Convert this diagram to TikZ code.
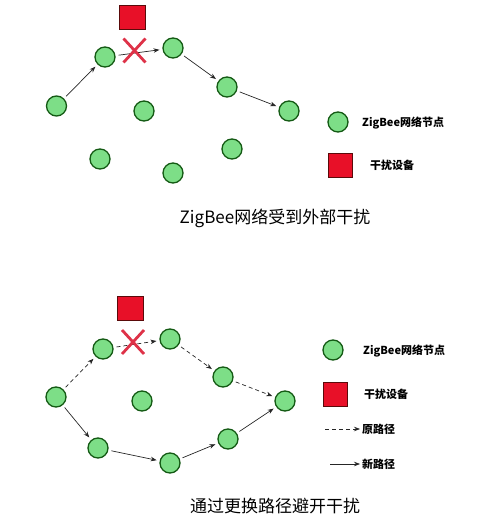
\documentclass[tikz,border=0pt]{standalone}
\usepackage{fontspec}
\setmainfont{Noto Sans CJK SC}
\usetikzlibrary{arrows.meta}
\definecolor{nodefill}{RGB}{125,222,135}
\definecolor{nodeedge}{RGB}{20,90,20}
\definecolor{jamfill}{RGB}{232,16,40}
\definecolor{jamedge}{RGB}{90,10,10}
\definecolor{xred}{RGB}{222,50,72}
\tikzset{
 zb/.style={circle, draw=nodeedge, fill=nodefill, line width=1.3pt, minimum size=20pt, inner sep=0pt},
 jam/.style={rectangle, draw=jamedge, fill=jamfill, line width=0.8pt, minimum width=26pt, minimum height=24pt, inner sep=0pt},
 newarr/.style={draw=black!85, line width=0.7pt, -{Stealth[length=6pt,width=4.5pt]}, shorten >=3pt, shorten <=3pt},
 oldarr/.style={newarr, dash pattern=on 4pt off 3pt},
 crossline/.style={draw=xred, line width=2.8pt},
 legtext/.style={anchor=west, font=\fontsize{11}{13}\selectfont\bfseries, inner sep=0pt},
 captext/.style={font=\fontsize{17}{20}\selectfont, inner sep=0pt}
}
\begin{document}
\begin{tikzpicture}[x=1pt,y=-1pt]
\useasboundingbox (0,0) rectangle (487,518);
% ---------- top diagram ----------
\node[zb] (ta) at (56.5,106) {};
\node[zb] (tb) at (105,57) {};
\node[zb] (tc) at (173,48) {};
\node[zb] (td) at (227,87) {};
\node[zb] (te) at (289,111) {};
\node[zb] (tf) at (144,111) {};
\node[zb] (tg) at (100,159) {};
\node[zb] (th) at (173,173) {};
\node[zb] (ti) at (232,149) {};
\node[jam] (tj) at (132,17) {};
\draw[newarr] (ta) -- (tb);
\draw[newarr] (tb) -- (tc);
\draw[newarr] (tc) -- (td);
\draw[newarr] (td) -- (te);
\coordinate (tx) at (134.5,50.5);
\draw[crossline] ([shift={(-11,-12)}]tx) -- ([shift={(11,12)}]tx);
\draw[crossline] ([shift={(11,-12)}]tx) -- ([shift={(-11,12)}]tx);
% legend top
\node[zb] (tlc) at (338,122) {};
\node[legtext] (tlct) at (362,123) {ZigBee网络节点};
\node[jam, minimum width=24pt] (tls) at (340,165) {};
\node[legtext] (tlst) at (370,165) {干扰设备};
\node[captext] (tcap) at (275,218) {ZigBee网络受到外部干扰};
% ---------- bottom diagram ----------
\node[zb] (ba) at (56,397) {};
\node[zb] (bb) at (103,349) {};
\node[zb] (bc) at (170,339) {};
\node[zb] (bd) at (223,377) {};
\node[zb] (be) at (285,401) {};
\node[zb] (bf) at (142,401) {};
\node[zb] (bg) at (98,448) {};
\node[zb] (bh) at (170,463) {};
\node[zb] (bi) at (228,439) {};
\node[jam] (bj) at (130,308) {};
\draw[oldarr] (ba) -- (bb);
\draw[oldarr] (bb) -- (bc);
\draw[oldarr] (bc) -- (bd);
\draw[oldarr] (bd) -- (be);
\draw[newarr] (ba) -- (bg);
\draw[newarr] (bg) -- (bh);
\draw[newarr] (bh) -- (bi);
\draw[newarr] (bi) -- (be);
\coordinate (bx) at (133,342);
\draw[crossline] ([shift={(-11,-12)}]bx) -- ([shift={(11,12)}]bx);
\draw[crossline] ([shift={(11,-12)}]bx) -- ([shift={(-11,12)}]bx);
% legend bottom
\node[zb] (blc) at (333,350) {};
\node[legtext] (blct) at (363,351) {ZigBee网络节点};
\node[jam, minimum width=24pt] (bls) at (335,394) {};
\node[legtext] (blst) at (364,394) {干扰设备};
\coordinate (bl1a) at (325,429);
\coordinate (bl1b) at (360,429);
\draw[oldarr, shorten <=0pt, shorten >=0pt] (bl1a) -- (bl1b);
\node[legtext] (bl1t) at (362,429) {原路径};
\coordinate (bl2a) at (330,464);
\coordinate (bl2b) at (360,464);
\draw[newarr, shorten <=0pt, shorten >=0pt] (bl2a) -- (bl2b);
\node[legtext] (bl2t) at (362,464) {新路径};
\node[captext, anchor=west] (bcap) at (190,506) {通过更换路径避开干扰};
\end{tikzpicture}
\end{document}
